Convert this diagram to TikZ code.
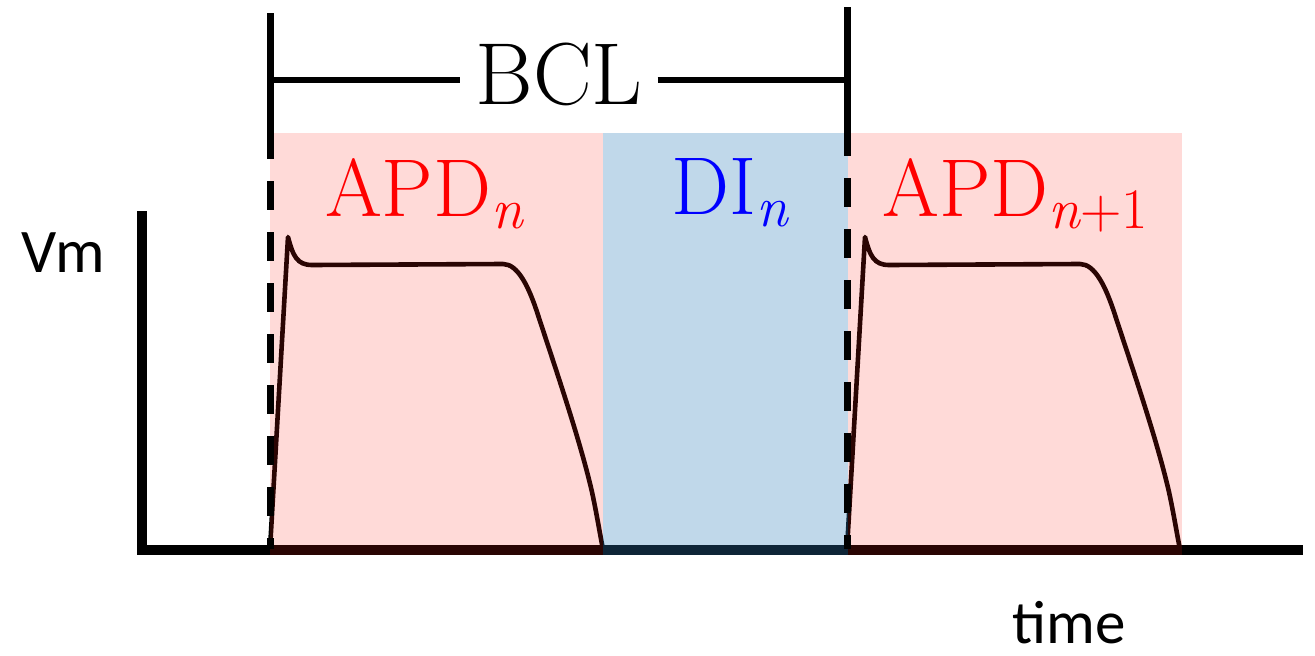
\documentclass[tikz,border=0pt]{standalone}
\usepackage{fontspec}
\newfontfamily\calib{Carlito}
\definecolor{pinkov}{RGB}{255,31,20}
\definecolor{blueov}{RGB}{48,125,185}
\newcommand\lowsub[1]{\raisebox{-12.3pt}{\fontsize{57.4}{62}\selectfont #1}}
\tikzset{
  axisline/.style={line width=10pt, line cap=rect},
  apline/.style={line width=4.6pt, black, line join=round},
  pinkregion/.style={fill=pinkov, fill opacity=0.165, draw=none},
  blueregion/.style={fill=blueov, fill opacity=0.3, draw=none},
  dashline/.style={line width=7pt, dash pattern=on 29pt off 22pt},
  solidline/.style={line width=7pt},
  bclline/.style={line width=6pt},
  bigtext/.style={inner sep=0pt, anchor=base},
  apcurve/.pic={
    \draw[apline] (270,549) -- (288,237)
      .. controls (293,256) and (297,265) .. (312,265)
      -- (503,264)
      .. controls (518,264) and (529,287) .. (538,315)
      .. controls (556,370) and (580,440) .. (592,492)
      .. controls (597,515) and (600,535) .. (603,549);
  }
}
\begin{document}
\begin{tikzpicture}[x=1pt,y=-1pt]
\useasboundingbox (0,0) rectangle (1315,656);
% axes
\coordinate (ytop) at (142,216);
\coordinate (origin) at (142,550);
\coordinate (xend) at (1298,550);
\draw[axisline] (ytop) -- (origin) -- (xend);
% action potentials
\pic at (0,0) {apcurve};
\pic at (577,0) {apcurve};
% shaded regions
\path[pinkregion] (270,133) rectangle (603,555);
\path[blueregion] (603,133) rectangle (848,555);
\path[pinkregion] (848,133) rectangle (1182,555);
% vertical markers
\coordinate (lt) at (270,13);
\coordinate (lm) at (270,130);
\coordinate (lb) at (270,549);
\coordinate (rt) at (847,7);
\coordinate (rm) at (847,127);
\coordinate (rb) at (847,549);
\draw[solidline] (lt) -- (lm);
\draw[solidline] (rt) -- (rm);
\draw[dashline] (lm) -- (lb);
\draw[dashline] (rm) -- (rb);
% BCL
\node[bigtext, inner xsep=15pt] (bcl) at (559,104) {\fontsize{88}{94}\selectfont BCL};
\coordinate (bl) at (270,80);
\coordinate (br) at (847,80);
\draw[bclline] (bl) -- (bl -| bcl.west);
\draw[bclline] (bcl.east |- br) -- (br);
% labels
\node[bigtext, text=red] (apdn) at (424,216) {\fontsize{82}{88}\selectfont APD\lowsub{\itshape n}};
\node[bigtext, text=blue] (din) at (730,214) {\fontsize{82}{88}\selectfont DI\lowsub{\itshape n}};
\node[bigtext, text=red] (apdn1) at (1015,216) {\fontsize{82}{88}\selectfont APD\lowsub{{\itshape n}+1}};
\node[bigtext] (vm) at (63,272) {\calib\fontsize{62}{66}\selectfont Vm};
\node[bigtext] (time) at (1069,643) {\calib\fontsize{61}{66}\selectfont time};
\end{tikzpicture}
\end{document}
